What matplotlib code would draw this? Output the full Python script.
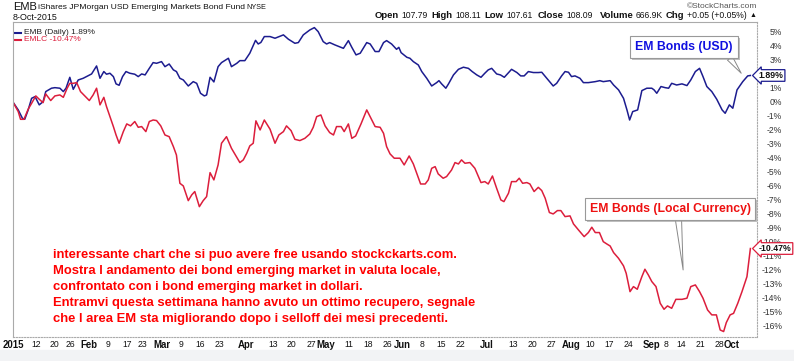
import numpy as np
import pandas as pd
import matplotlib
matplotlib.use("Agg")
import matplotlib.pyplot as plt
from matplotlib.patches import Rectangle
import matplotlib.patheffects as pe

plt.rcParams['font.family'] = ['Liberation Sans', 'DejaVu Sans']

W, H = 794, 361

# trading sessions 2 Jan - 8 Oct 2015, NYSE holidays removed
holidays = ['2015-01-19', '2015-02-16', '2015-04-03', '2015-05-25', '2015-07-03', '2015-09-07']
sessions = pd.bdate_range('2015-01-02', '2015-10-08').difference(pd.to_datetime(holidays))

# % change since 2 Jan (x = session number)
emb_x = [0, 1.4, 2.5, 3.1, 4.0, 4.9, 5.8, 6.9, 7.9, 8.6,
         10.1, 11, 12.3, 13.2, 13.9, 14.9, 15.8, 17.1, 18.4, 20.6,
         21.9, 22.8, 23.8, 24.5, 25.4, 26.3, 27, 27.8, 28.7, 29.6,
         30.6, 31.9, 32.8, 33.7, 34.6, 35.7, 36.7, 37.6, 38.9, 39.8,
         40.9, 42, 42.8, 43.7, 44.6, 45.9, 47.2, 48.1, 49.1, 50.1,
         50.7, 51.6, 52.6, 53.7, 54.6, 56.4, 57.2, 58.6, 59.4, 60.7,
         62, 63.5, 64.2, 64.9, 65.8, 67.3, 68.6, 70.8, 72.1, 73.8,
         74.7, 76, 77.7, 78.9, 79.9, 81.2, 82.1, 82.9, 84.3, 86.5,
         87.8, 88.7, 89.8, 90.9, 92.6, 93.5, 94.8, 95.8, 97, 97.8,
         99.1, 100.4, 101, 101.6, 103.1, 103.9, 104.8, 106.1, 107, 108.3,
         109.6, 110.9, 111.5, 112.2, 113.3, 114, 115.3, 116.6, 117.9, 119.2,
         120.2, 121.4, 122.5, 123.5, 124.4, 125.3, 126.6, 127.6, 128.6, 130.5,
         131.9, 132.9, 133.8, 134.9, 136.2, 137.5, 138.4, 139.7, 141.4, 142.3,
         143.6, 144.5, 145.4, 146.2, 147.1, 148.4, 149.3, 150.6, 152.4, 153.6,
         154.5, 156.3, 157.2, 158.5, 159.8, 160.7, 161.4, 162.2, 163.5, 164.6,
         165.9, 167.2, 167.8, 168.5, 169.6, 170.7, 171.6, 172.4, 173.7, 175.1,
         176.4, 177.4, 178.6, 179.7, 180.6, 181.6, 182.9, 184.2, 185.6, 186.4,
         187.5, 188.4, 189.5, 191, 192.3, 193]
emb_y = [0.0, -0.57, -1.17, -1.24, -0.57, 0.26, 0.38, -0.21, 0.02, 0.74,
         0.98, 1.02, 0.98, 0.74, 0.98, 1.76, 0.9, 1.57, 1.69, 2.0,
         2.57, 1.69, 2.17, 1.98, 2.05, 1.81, 1.29, 1.19, 1.81, 2.17,
         2.05, 1.98, 1.81, 2.0, 1.93, 2.4, 2.81, 2.76, 2.88, 2.52,
         2.71, 2.29, 2.17, 1.69, 1.57, 1.14, 1.45, 1.33, 0.62, 0.43,
         0.5, 1.76, 1.43, 2.52, 2.81, 3.12, 2.52, 2.76, 2.95, 2.95,
         3.48, 4.4, 4.14, 4.25, 4.67, 4.67, 4.55, 4.79, 4.48, 4.19,
         4.24, 4.79, 5.14, 5.31, 5.02, 4.31, 4.14, 4.24, 4.07, 3.83,
         4.38, 3.9, 3.36, 3.48, 4.24, 4.14, 3.6, 3.6, 4.24, 4.38,
         4.14, 3.76, 3.9, 3.52, 3.19, 3.12, 2.88, 2.64, 2.17, 1.69,
         1.14, 1.38, 1.52, 1.29, 0.98, 1.29, 1.93, 2.33, 2.48, 2.4,
         2.17, 1.93, 1.76, 2.05, 2.29, 2.4, 2.0, 1.93, 1.76, 2.33,
         2.1, 1.86, 1.86, 2.17, 2.1, 2.1, 2.12, 1.69, 1.14, 1.33,
         1.86, 2.17, 2.12, 1.81, 1.86, 1.69, 1.38, 1.38, 1.45, 1.52,
         1.45, 1.52, 1.21, 0.86, 0.26, -0.57, -1.29, -0.69, -0.57, 0.81,
         0.98, 0.98, 0.86, 0.62, 1.1, 1.02, 0.98, 1.33, 1.21, 1.29,
         1.17, 1.57, 2.17, 2.4, 1.81, 1.1, 0.74, 0.19, -0.57, -0.81,
         -0.21, -0.45, 0.86, 1.45, 1.86, 1.89]

emlc_x = [0, 1.4, 2.0, 2.9, 4.0, 4.9, 6.0, 6.9, 7.9, 8.6,
          9.9, 11, 12.3, 13.2, 14.2, 14.9, 15.8, 16.7, 17.7, 18.8,
          20, 21, 21.9, 22.8, 23.8, 24.5, 25.4, 26.3, 27, 27.8,
          28.9, 29.8, 30.8, 31.9, 32.8, 33.7, 34.8, 35.7, 36.7, 37.6,
          38.7, 39.8, 40.9, 42, 42.8, 43.7, 44.6, 45.9, 46.8, 47.6,
          48.8, 49.8, 50.7, 51.6, 52.6, 53.7, 54.6, 55.9, 57.2, 58.6,
          59.4, 60.3, 61.2, 62.0, 62.9, 63.6, 64.7,
          65.8, 67.3, 68.6, 69.6, 70.8, 71.6, 72.8, 73.8, 75.1, 76.4,
          77.7, 78.6, 79.5, 80.6, 81.7, 82.9, 83.9, 84.7, 85.9, 86.7,
          87.8, 88.7, 89.7, 91.1, 92.6, 93.7, 94.8, 96.1, 97, 97.8,
          98.7, 99.8, 101.3, 102.4, 103.7, 104.8, 105.7, 106.7, 107.9, 108.7,
          109.6, 110.5, 111.3, 112.6, 113.5, 114.8, 115.7, 116.6, 117.4, 118.3,
          119.6, 120.9, 122.5, 123.5, 124.4, 125.5, 126.6, 127.7,
          128.5, 129.7, 130.5, 131.7, 132.5, 133.4, 134.5, 135.3, 136.4, 137.5,
          138.4, 139.3, 140.4, 141.4, 142.5, 143.4, 144.5, 145.8, 146.7, 148,
          149.5, 150.6, 151.5, 152.4, 153.5, 154.5, 155.4, 156.3, 157.2, 158.5,
          159.8, 160.5, 161.5, 162.4, 163.4, 164.6, 165.4, 166.3, 167.2, 168.3,
          169.4, 170.4, 171.3, 172.4, 173.5, 175.1, 176.4, 177.4, 178.6, 179.7,
          180.6, 181.8, 182.9, 184.1, 185.1, 186, 186.7, 187.7, 188.6, 189.7,
          190.8, 192.1, 193]
emlc_y = [0, -0.69, -1.24, -1.24, -0.52, -0.1, 0.43, 0.19, -0.05, 0.57,
          0.1, 0.43, 0.5, 0.33, 0.98, 1.33, 1.33, 1.38, 0.74, 0.43,
          0.1, 0.5, 0.98, -0.21, 0.33, -0.33, -1.05, -1.76, -2.36, -2.95,
          -2.12, -1.57, -1.71, -1.4, -1.81, -1.76, -2.12, -1.4, -1.29, -1.33,
          -1.71, -2.36, -2.48, -3.19, -3.79, -5.81, -6.0, -7.05, -6.64, -6.4,
          -7.48, -7.05, -6.76, -5.05, -5.57, -4.5, -2.95, -2.48, -3.31, -3.95,
          -4.33, -4.14, -3.67, -3.14, -2.95, -1.35, -2.0,
          -1.29, -1.95, -2.95, -2.36, -2.12, -1.71, -2.05, -2.67, -2.76, -2.6,
          -2.29, -1.81, -1.05, -0.93, -1.71, -2.19, -2.36, -1.76, -1.76, -2.12,
          -1.57, -2.6, -2.43, -1.57, -0.57, -1.17, -1.76, -1.81, -2.24, -3.19,
          -3.71, -4.02, -4.02, -4.5, -3.86, -4.43, -5.1, -5.86, -5.86, -5.57,
          -4.74, -4.62, -5.14, -5.45, -5.33, -4.86, -4.33, -4.43, -4.14, -4.38,
          -4.33, -4.74, -5.76, -5.69, -5.86, -5.29, -6.17, -7.0,
          -7.12, -6.52, -5.69, -5.69, -5.45, -5.81, -5.76, -5.86, -6.4, -6.1,
          -6.33, -6.88, -7.9, -8.0, -7.76, -7.76, -8.19, -8.14, -8.71, -9.14,
          -9.62, -9.33, -8.95, -9.33, -9.33, -9.98, -10.14, -10.29, -10.76, -11.17,
          -11.71, -12.24, -13.55, -13.19, -13.38, -12.48, -11.95, -12.36, -12.83, -13.19,
          -14.38, -14.81, -14.57, -14.74, -14.1, -14.1, -14.02, -13.19, -13.07, -13.55,
          -14.02, -14.86, -15.21, -15.21, -16.29, -16.4, -15.76, -15.21, -15.1, -14.38,
          -13.55, -12.48, -10.47]

tick_dates = ['2015-01-02', '2015-01-12', '2015-01-20', '2015-01-26', '2015-02-02', '2015-02-09',
              '2015-02-17', '2015-02-23', '2015-03-02', '2015-03-09', '2015-03-16', '2015-03-23',
              '2015-04-01', '2015-04-13', '2015-04-20', '2015-04-27', '2015-05-01', '2015-05-11',
              '2015-05-18', '2015-05-26', '2015-06-01', '2015-06-08', '2015-06-15', '2015-06-22',
              '2015-07-01', '2015-07-13', '2015-07-20', '2015-07-27', '2015-08-03', '2015-08-10',
              '2015-08-17', '2015-08-24', '2015-09-01', '2015-09-08', '2015-09-14', '2015-09-21',
              '2015-09-28', '2015-10-01']
tick_labels = ['2015', '12', '20', '26', 'Feb', '9', '17', '23', 'Mar', '9', '16', '23',
               'Apr', '13', '20', '27', 'May', '11', '18', '26', 'Jun', '8', '15', '22',
               'Jul', '13', '20', '27', 'Aug', '10', '17', '24', 'Sep', '8', '14', '21', '28', 'Oct']
y_ticks = [5, 4, 3, 1, 0, -1, -2, -3, -4, -5, -6, -7, -8, -9, -10, -11, -12, -13, -14, -15, -16]

note_lines = ["interessante chart che si puo avere free usando stockckarts.com.",
              "Mostra l andamento dei bond emerging market in valuta locale,",
              "confrontato con i bond emerging market in dollari.",
              "Entramvi questa settimana hanno avuto un ottimo recupero, segnale",
              "che l area EM sta migliorando dopo i selloff dei mesi precedenti."]

# label, value, x of value start (px)
quote = [('Open', '107.79', 401), ('High', '108.11', 455), ('Low', '107.61', 506),
         ('Close', '108.09', 566), ('Volume', '666.9K', 636), ('Chg', '+0.05 (+0.05%)', 687)]

NAVY = '#1c1c8f'
RED = '#dc1e3c'


def px(x, y):
    return x / W, 1 - y / H


fig = plt.figure(figsize=(W / 100, H / 100), dpi=100)
fig.patches.append(Rectangle((0, 0), 1, 11 / H, transform=fig.transFigure, color='#f2f3f5', zorder=0))

ax = fig.add_axes([12.5 / W, 1 - 337 / H, (756.5 - 12.5) / W, (337 - 22) / H])
ax.plot(emb_x, emb_y, color=NAVY, lw=1.1, solid_joinstyle='round')
ax.plot(emlc_x, emlc_y, color=RED, lw=1.1, solid_joinstyle='round')
ax.set_xlim(-0.1, 194.6)
ax.set_ylim(-16.79, 5.71)

for s in ['left', 'top']:
    ax.spines[s].set_color('#aaaaaa')
    ax.spines[s].set_linewidth(0.8)
for s in ['right', 'bottom']:
    ax.spines[s].set_color('#aaaaaa')
    ax.spines[s].set_linewidth(0.8)
    ax.spines[s].set_linestyle((0, (1, 1.5)))

# right axis labels
ax.yaxis.tick_right()
ax.set_yticks(y_ticks)
ax.set_yticklabels([f'{v}%' for v in y_ticks])
ax.tick_params(axis='y', length=0, pad=18.4, labelsize=6.2, labelcolor='#333333')
for t in ax.get_yticklabels():
    t.set_ha('right')

# date axis
tick_pos = [sessions.get_loc(pd.Timestamp(d)) for d in tick_dates]
ax.set_xticks(tick_pos)
ax.set_xticklabels(tick_labels)
ax.tick_params(axis='x', length=0, pad=2.5, labelcolor='#111111')
for t in ax.get_xticklabels():
    if t.get_text().isalpha() or t.get_text() == '2015':
        t.set_fontweight('bold')
        t.set_fontsize(6.9)
    else:
        t.set_fontsize(6.2)

# last value tags
ax.text(1.003, emb_y[-1], f'{emb_y[-1]:.2f}%', transform=ax.get_yaxis_transform(), ha='left', va='center',
        fontsize=6.3, fontweight='bold', color='#111111', zorder=5, clip_on=False,
        bbox=dict(boxstyle='larrow,pad=0.15', fc='white', ec=NAVY, lw=0.9))
ax.text(1.003, emlc_y[-1], f'{emlc_y[-1]:.2f}%', transform=ax.get_yaxis_transform(), ha='left', va='center',
        fontsize=6.3, fontweight='bold', color='#111111', zorder=5, clip_on=False,
        bbox=dict(boxstyle='larrow,pad=0.15', fc='white', ec=RED, lw=0.9))

# legend
ax.plot([0.004, 0.012], [0.9655, 0.9655], transform=ax.transAxes, color=NAVY, lw=1.5)
ax.plot([0.004, 0.012], [0.944, 0.944], transform=ax.transAxes, color=RED, lw=1.5)
ax.text(0.016, 0.9655, f'EMB (Daily) {emb_y[-1]:.2f}%', transform=ax.transAxes, va='center', fontsize=6.0, color='#222222')
ax.text(0.016, 0.944, f'EMLC {emlc_y[-1]:.2f}%', transform=ax.transAxes, va='center', fontsize=6.0, color=RED)

# callouts
shadow = [pe.SimplePatchShadow(offset=(1.5, -1.5), shadow_rgbFace='#999999', alpha=0.6), pe.Normal()]
a1 = ax.annotate('EM Bonds (USD)', xy=(190.6, 2.05), xycoords='data',
                 xytext=(684, H - 47), textcoords='figure pixels', ha='center', va='center',
                 fontsize=8.8, fontweight='bold', color='#1010e0',
                 bbox=dict(boxstyle='square,pad=0.4', fc='white', ec='#999999', lw=0.8),
                 arrowprops=dict(arrowstyle='wedge,tail_width=0.5,shrink_factor=0.5', fc='white', ec='#888888',
                                 lw=0.7, relpos=(0.93, 0.0), shrinkA=0, shrinkB=0))
a1.get_bbox_patch().set_path_effects(shadow)
a2 = ax.annotate('EM Bonds (Local Currency)', xy=(175.4, -12.0), xycoords='data',
                 xytext=(670, H - 209), textcoords='figure pixels', ha='center', va='center',
                 fontsize=8.8, fontweight='bold', color='#ee1111',
                 bbox=dict(boxstyle='square,pad=0.4', fc='white', ec='#999999', lw=0.8),
                 arrowprops=dict(arrowstyle='wedge,tail_width=0.5,shrink_factor=0.5', fc='white', ec='#888888',
                                 lw=0.7, relpos=(0.55, 0.0), shrinkA=0, shrinkB=0))
a2.get_bbox_patch().set_path_effects(shadow)

# note in red
for i, line in enumerate(note_lines):
    fig.text(*px(53, 255 + i * 15.9), line, ha='left', va='center', fontsize=9.4, fontweight='bold', color='#ff0000')

# header
fig.text(*px(13, 7), 'EMB', ha='left', va='center', fontsize=8, color='#111111')
fig.text(*px(38, 7.5), 'iShares JPMorgan USD Emerging Markets Bond Fund', ha='left', va='center', fontsize=6.1, color='#111111')
fig.text(*px(246, 7.8), 'NYSE', ha='left', va='center', fontsize=5.2, color='#111111')
fig.text(*px(13, 17.5), '8-Oct-2015', ha='left', va='center', fontsize=6.4, color='#111111')
fig.text(*px(757, 6.5), '\u00a9StockCharts.com', ha='right', va='center', fontsize=6, color='#555555')

for label, value, x in quote:
    fig.text(*px(x - 2.5, 15.5), label, ha='right', va='center', fontsize=6.8, fontweight='bold', color='#111111')
    fig.text(*px(x, 15.5), value, ha='left', va='center', fontsize=6.2, color='#111111')
fig.text(*px(750, 15.5), '\u25b2', ha='left', va='center', fontsize=5, color='#111111')

fig.savefig('out.png', dpi=100)
